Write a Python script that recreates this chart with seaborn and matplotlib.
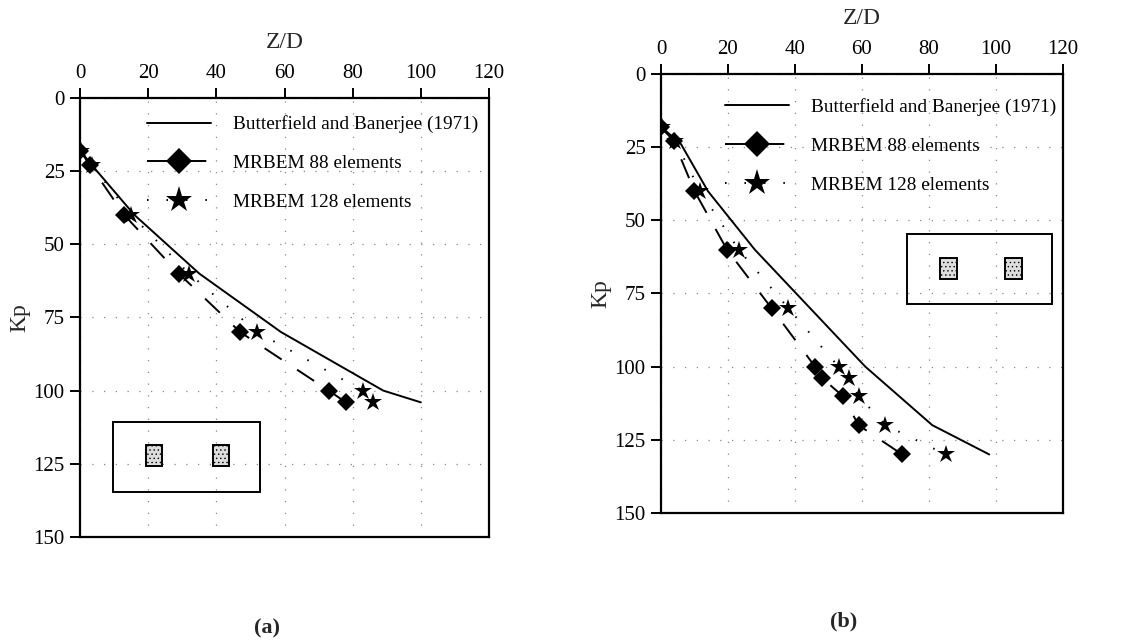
import matplotlib
matplotlib.use("Agg")
import matplotlib.pyplot as plt
import seaborn as sns
from matplotlib.patches import Rectangle

# ---------------- data ----------------
# panel (a)
a_bb_zd = [0, 5, 16, 35, 59, 89, 100]
a_bb_kp = [18, 25, 40, 60, 80, 100, 104]
a_m88_zd = [0, 3, 13, 29, 47, 73, 78]
a_m88_kp = [18, 23, 40, 60, 80, 100, 104]
a_m128_zd = [0.3, 3.5, 15, 32, 52, 83, 86]
a_m128_kp = [18, 23, 40, 60, 80, 100, 104]

# panel (b)
b_bb_zd = [0, 6, 14, 28, 44.5, 61, 81, 98]
b_bb_kp = [18, 24, 40, 60, 80, 100, 120, 130]
b_m88_zd = [0, 3.8, 10, 19.7, 33, 46, 48.2, 54.2, 59, 72]
b_m88_kp = [18, 23, 40, 60, 80, 100, 104, 110, 120, 130]
b_m128_zd = [0.3, 4.3, 11.7, 23.2, 38, 53, 56, 59, 67, 85]
b_m128_kp = [18, 23, 40, 60, 80, 100, 104, 110, 120, 130]

labels = ["Butterfield and Banerjee (1971)", "MRBEM 88 elements", "MRBEM 128 elements"]
x_ticks = [0, 20, 40, 60, 80, 100, 120]
y_ticks = [0, 25, 50, 75, 100, 125, 150]

sns.set_theme(style="white")
plt.rcParams["font.family"] = ["Liberation Serif", "DejaVu Serif"]
plt.rcParams["hatch.linewidth"] = 0.5
plt.rcParams["hatch.color"] = "#555555"

fig = plt.figure(figsize=(11.41, 6.43), dpi=100)
ax_a = fig.add_axes([0.0701, 0.1649, 0.3585, 0.6827])
ax_b = fig.add_axes([0.5793, 0.2022, 0.3523, 0.6827])


def draw_panel(ax, bb, m88, m128, legend_anchor, box, squares):
    sns.lineplot(x=bb[0], y=bb[1], ax=ax, color="black", lw=1.4, sort=False,
                 estimator=None, label=labels[0])
    sns.lineplot(x=m88[0], y=m88[1], ax=ax, color="black", lw=1.4, sort=False,
                 estimator=None, marker="D", markersize=9, markeredgewidth=0,
                 linestyle=(0, (10.5, 9.5)), label=labels[1])
    sns.lineplot(x=m128[0], y=m128[1], ax=ax, color="black", lw=1.4, sort=False,
                 estimator=None, marker="*", markersize=13.5, markeredgewidth=0,
                 linestyle=(0, (0.8, 9.2)), label=labels[2])
    ax.set_xlim(0, 120)
    ax.set_ylim(150, 0)
    ax.set_xticks(x_ticks)
    ax.set_yticks(y_ticks)
    ax.xaxis.tick_top()
    ax.xaxis.set_label_position("top")
    ax.tick_params(axis="both", which="major", direction="out", length=7, width=1.4,
                   labelsize=15, color="black", labelcolor="black", pad=4)
    ax.tick_params(axis="x", top=True, bottom=False)
    ax.tick_params(axis="y", left=True, right=False)
    for s in ax.spines.values():
        s.set_visible(True)
        s.set_color("black")
        s.set_linewidth(1.6)
    ax.grid(True, color="#888888", linestyle=(0, (1, 8.4)), linewidth=0.9)
    ax.set_xlabel("Z/D", fontsize=17, labelpad=11.5)
    ax.set_ylabel("Kp", fontsize=17, labelpad=2)
    leg = ax.legend(loc="upper left", bbox_to_anchor=legend_anchor, frameon=False,
                    fontsize=13.9, markerscale=1.45, handlelength=3.3,
                    handletextpad=1.15, labelspacing=1.1, borderpad=0,
                    borderaxespad=0)
    for t in leg.get_texts():
        t.set_color("black")
    ax.add_patch(Rectangle((box[0], box[1]), box[2] - box[0], box[3] - box[1],
                           fill=False, edgecolor="black", lw=1.4, zorder=3))
    for sx0, sx1, sy0, sy1 in squares:
        ax.add_patch(Rectangle((sx0, sy0), sx1 - sx0, sy1 - sy0, facecolor="#dddddd",
                               edgecolor="black", lw=1.4, hatch="....", zorder=3))


draw_panel(ax_a, (a_bb_zd, a_bb_kp), (a_m88_zd, a_m88_kp), (a_m128_zd, a_m128_kp),
           (0.165, 0.96), (9.6, 110.7, 52.8, 134.6),
           [(19.4, 24.2, 118.6, 125.7), (38.9, 43.8, 118.6, 125.7)])
draw_panel(ax_b, (b_bb_zd, b_bb_kp), (b_m88_zd, b_m88_kp), (b_m128_zd, b_m128_kp),
           (0.16, 0.945), (73.4, 54.8, 116.7, 78.7),
           [(83.4, 88.4, 62.7, 69.9), (102.8, 107.8, 62.7, 69.9)])

fig.text(0.234, 0.023, "(a)", ha="center", va="center", fontsize=16, fontweight="bold")
fig.text(0.739, 0.033, "(b)", ha="center", va="center", fontsize=16, fontweight="bold")

fig.savefig("out.png", dpi=100, facecolor="white")
